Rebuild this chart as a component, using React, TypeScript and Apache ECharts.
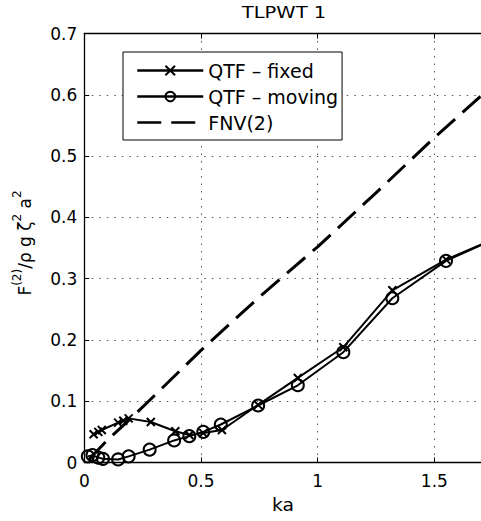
import React, { useEffect, useRef } from "react";
import * as echarts from "echarts";

const titleText = "TLPWT 1";
const xName = "ka";
const seriesNames = ["QTF – fixed", "QTF – moving", "FNV(2)"];

const kaFixed = [0.04, 0.06, 0.075, 0.145, 0.167, 0.19, 0.285, 0.39, 0.45, 0.51, 0.59, 0.745, 0.915, 1.11, 1.32, 1.55, 1.8];
const valFixed = [0.046, 0.05, 0.053, 0.065, 0.068, 0.072, 0.066, 0.051, 0.045, 0.048, 0.053, 0.094, 0.138, 0.188, 0.281, 0.331, 0.372];

const kaMoving = [0.015, 0.035, 0.06, 0.08, 0.145, 0.19, 0.28, 0.385, 0.45, 0.51, 0.585, 0.745, 0.915, 1.11, 1.32, 1.55, 1.8];
const valMoving = [0.01, 0.012, 0.008, 0.006, 0.005, 0.01, 0.021, 0.036, 0.043, 0.05, 0.062, 0.093, 0.126, 0.18, 0.268, 0.329, 0.372];

const kaFnv = [0.02, 0.1, 0.2, 0.5, 0.75, 1.0, 1.25, 1.5, 1.75];
const valFnv = [0.005, 0.037, 0.072, 0.183, 0.27, 0.352, 0.44, 0.53, 0.615];

const xTicks = { min: 0, max: 1.7, interval: 0.5 };
const yTicks = { min: 0, max: 0.7, interval: 0.1 };

const FONT = "DejaVu Sans";
const crossPath = "path://M0,0L10,10M10,0L0,10";

export default function App() {
  const ref = useRef<HTMLDivElement>(null);
  useEffect(() => {
    if (!ref.current) return;
    const chart = echarts.init(ref.current, null, { renderer: "svg" });
    const pairs = (xs: number[], ys: number[]) => xs.map((x, i) => [x, ys[i]]);
    const axisLabel = { color: "#000", fontFamily: FONT, fontSize: 17 };
    const splitLine = { show: true, lineStyle: { color: "#555", width: 1, type: [1.5, 6] } };
    chart.setOption({
      animation: false,
      backgroundColor: "#fff",
      grid: { left: 84.3, top: 33.5, width: 400.2, bottom: 58.5, containLabel: false },
      xAxis: [
        {
          type: "value",
          ...xTicks,
          axisLine: { show: true, lineStyle: { color: "#000", width: 1.3 } },
          axisTick: { show: true, inside: true, length: 5, lineStyle: { color: "#000" } },
          axisLabel: { ...axisLabel, margin: 10, showMaxLabel: false, formatter: (v: number) => String(v) },
          splitLine,
        },
        {
          type: "value",
          position: "top",
          ...xTicks,
          axisLine: { show: true, onZero: false, lineStyle: { color: "#000", width: 1.3 } },
          axisTick: { show: true, inside: true, length: 5, lineStyle: { color: "#000" } },
          axisLabel: { show: false },
          splitLine: { show: false },
        },
      ],
      yAxis: {
        type: "value",
        ...yTicks,
        axisLine: { show: true, lineStyle: { color: "#000", width: 1.3 } },
        axisTick: { show: true, inside: true, length: 5, lineStyle: { color: "#000" } },
        axisLabel: { ...axisLabel, margin: 7, formatter: (v: number) => String(Math.round(v * 10) / 10) },
        splitLine,
      },
      legend: {
        orient: "vertical",
        left: 123,
        top: 52,
        data: [
          { name: seriesNames[0] },
          { name: seriesNames[1] },
          { name: seriesNames[2], itemStyle: { color: "rgba(0,0,0,0)", borderColor: "rgba(0,0,0,0)", borderWidth: 0 } },
        ],
        backgroundColor: "#fff",
        borderColor: "#000",
        borderWidth: 1,
        borderRadius: 0,
        padding: [9, 4, 8, 13],
        itemWidth: 66,
        itemHeight: 12,
        itemGap: 7,
        lineStyle: { width: 2.5 },
        textStyle: { color: "#000", fontFamily: FONT, fontSize: 19 },
      },
      graphic: [
        {
          type: "text",
          x: 284,
          y: 12,
          scaleX: 1.22,
          style: { text: titleText, fontFamily: FONT, fontSize: 16, fill: "#000", align: "center", verticalAlign: "middle" },
        },
        {
          type: "text",
          x: 283,
          y: 505,
          scaleX: 1.1,
          style: { text: xName, fontFamily: FONT, fontSize: 17, fill: "#000", align: "center", verticalAlign: "middle" },
        },
        {
          type: "text",
          x: 22,
          y: 243,
          rotation: Math.PI / 2,
          style: {
            text: "{n|F}{s|(2)}{n|/ρ g ζ}{s|2}{n| a}{s|2}",
            align: "center",
            verticalAlign: "middle",
            fill: "#000",
            rich: {
              n: { fontFamily: FONT, fontSize: 17, lineHeight: 22, verticalAlign: "bottom", fill: "#000" },
              s: { fontFamily: FONT, fontSize: 12, lineHeight: 22, verticalAlign: "top", fill: "#000" },
            },
          },
        },
      ],
      series: [
        {
          name: seriesNames[0],
          type: "line",
          data: pairs(kaFixed, valFixed),
          symbol: crossPath,
          symbolSize: 8,
          lineStyle: { color: "#000", width: 2 },
          itemStyle: { color: "rgba(0,0,0,0)", borderColor: "#000", borderWidth: 2 },
          z: 3,
        },
        {
          name: seriesNames[1],
          type: "line",
          data: pairs(kaMoving, valMoving),
          symbol: "circle",
          symbolSize: 12,
          lineStyle: { color: "#000", width: 2 },
          itemStyle: { color: "rgba(0,0,0,0)", borderColor: "#000", borderWidth: 2 },
          z: 3,
        },
        {
          name: seriesNames[2],
          type: "line",
          data: pairs(kaFnv, valFnv),
          symbol: "none",
          lineStyle: { color: "#000", width: 3, type: [24, 10] },
          itemStyle: { color: "#000" },
          z: 2,
        },
      ],
    });
    return () => chart.dispose();
  }, []);
  return <div ref={ref} style={{ position: "absolute", left: 0, top: 0, width: 481, height: 521 }} />;
}
